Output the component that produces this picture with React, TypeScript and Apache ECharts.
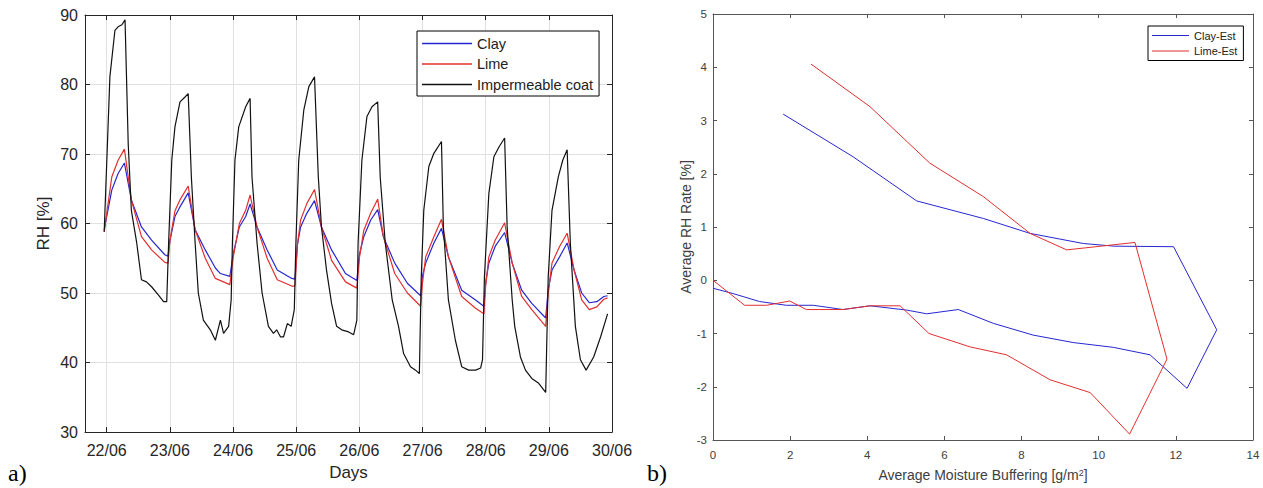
import React, { useEffect, useRef } from 'react';
import * as echarts from 'echarts';

// ---- Panel a) : RH [%] vs days (x = days after 22/06) ----
const dayLabels = ['22/06', '23/06', '24/06', '25/06', '26/06', '27/06', '28/06', '29/06', '30/06'];

const clayRH: [number, number][] = [
  [-0.04, 59.1], [0.08, 64.8], [0.18, 67.2], [0.28, 68.7], [0.39, 63.4], [0.55, 59.5], [0.71, 57.6], [0.92, 55.5], [0.97, 55.3],
  [1.0, 57.5], [1.08, 61.0], [1.16, 62.4], [1.29, 64.4], [1.4, 59.1], [1.56, 56.2], [1.72, 53.6], [1.8, 52.8], [1.95, 52.4],
  [2.0, 55.5], [2.1, 59.5], [2.2, 61.0], [2.27, 62.8], [2.38, 59.5], [2.54, 56.2], [2.7, 53.3], [2.93, 52.1], [2.98, 52.0],
  [3.02, 57.0], [3.07, 59.5], [3.17, 61.5], [3.29, 63.3], [3.4, 59.5], [3.56, 56.2], [3.78, 52.8], [3.96, 51.8],
  [4.0, 55.5], [4.07, 58.1], [4.18, 60.5], [4.29, 62.0], [4.38, 58.1], [4.56, 54.3], [4.76, 51.4], [4.97, 49.6],
  [5.0, 52.5], [5.05, 54.3], [5.18, 57.2], [5.3, 59.3], [5.41, 55.2], [5.62, 50.4], [5.84, 49.0], [5.97, 48.1],
  [6.0, 51.5], [6.05, 54.3], [6.15, 56.7], [6.3, 58.7], [6.42, 54.3], [6.57, 50.4], [6.73, 48.5], [6.95, 46.4],
  [6.99, 50.5], [7.05, 53.3], [7.17, 55.2], [7.29, 57.2], [7.4, 53.3], [7.52, 50.0], [7.64, 48.6], [7.76, 48.75], [7.87, 49.5], [7.93, 49.6],
];

const limeRH: [number, number][] = [
  [-0.04, 58.8], [0.08, 66.7], [0.18, 69.1], [0.28, 70.7], [0.39, 63.4], [0.55, 58.1], [0.71, 56.2], [0.92, 54.4], [0.97, 54.3],
  [1.0, 57.5], [1.08, 61.8], [1.16, 63.4], [1.29, 65.4], [1.4, 59.1], [1.56, 55.0], [1.72, 52.1], [1.95, 51.2],
  [2.0, 55.0], [2.1, 60.0], [2.2, 61.9], [2.27, 64.1], [2.38, 59.5], [2.54, 55.0], [2.7, 51.9], [2.93, 51.0], [2.98, 51.0],
  [3.02, 57.0], [3.07, 60.5], [3.17, 62.9], [3.29, 64.9], [3.4, 59.5], [3.56, 54.7], [3.78, 51.6], [3.96, 50.7],
  [4.0, 55.0], [4.07, 59.0], [4.18, 61.5], [4.29, 63.5], [4.38, 58.1], [4.56, 52.8], [4.76, 50.0], [4.97, 48.1],
  [5.0, 51.5], [5.05, 55.2], [5.18, 58.1], [5.3, 60.6], [5.41, 55.2], [5.62, 49.5], [5.84, 47.8], [5.97, 47.0],
  [6.0, 51.0], [6.05, 55.2], [6.15, 57.6], [6.3, 60.1], [6.42, 54.3], [6.57, 49.5], [6.73, 47.6], [6.95, 45.2],
  [6.99, 50.0], [7.05, 54.3], [7.17, 56.7], [7.29, 58.6], [7.4, 53.3], [7.52, 49.0], [7.64, 47.6], [7.76, 48.0], [7.87, 49.1], [7.93, 49.3],
];

const coatRH: [number, number][] = [
  [-0.04, 58.8], [0.05, 81.1], [0.13, 87.8], [0.18, 88.3], [0.24, 88.6], [0.29, 89.3], [0.34, 71.5], [0.39, 61.9], [0.475, 57.2],
  [0.55, 51.9], [0.63, 51.6], [0.71, 50.9], [0.82, 49.7], [0.9, 48.75], [0.95, 48.75],
  [0.98, 57.2], [1.03, 69.1], [1.08, 73.9], [1.16, 77.5], [1.24, 78.2], [1.29, 78.7], [1.34, 66.7], [1.4, 57.2], [1.45, 50.0],
  [1.53, 46.1], [1.64, 44.7], [1.72, 43.2], [1.8, 46.1], [1.85, 44.2], [1.93, 45.2], [1.97, 49.0],
  [1.99, 57.2], [2.03, 69.1], [2.09, 73.9], [2.2, 76.8], [2.27, 78.0], [2.3, 66.7], [2.38, 57.2], [2.46, 50.0], [2.56, 45.2],
  [2.64, 44.2], [2.69, 44.7], [2.75, 43.7], [2.8, 43.7], [2.86, 45.6], [2.92, 45.2], [2.97, 47.6],
  [2.995, 57.2], [3.04, 69.1], [3.12, 76.3], [3.2, 79.7], [3.29, 81.1], [3.35, 66.7], [3.4, 59.5], [3.48, 53.3], [3.56, 48.5],
  [3.64, 45.2], [3.72, 44.7], [3.83, 44.4], [3.91, 44.0], [3.96, 46.1],
  [3.98, 57.2], [4.04, 69.1], [4.12, 75.4], [4.2, 76.8], [4.29, 77.5], [4.33, 66.7], [4.41, 57.2], [4.52, 49.0], [4.62, 45.2],
  [4.7, 41.3], [4.81, 39.4], [4.89, 38.9], [4.95, 38.4],
  [4.98, 52.3], [5.02, 61.9], [5.1, 68.2], [5.18, 70.1], [5.3, 71.8], [5.33, 59.5], [5.41, 49.0], [5.52, 43.2], [5.62, 39.4],
  [5.73, 38.9], [5.84, 38.9], [5.92, 39.2], [5.95, 40.4],
  [5.98, 52.3], [6.05, 64.3], [6.13, 69.6], [6.21, 71.0], [6.3, 72.3], [6.34, 59.5], [6.42, 49.0], [6.46, 45.2], [6.55, 40.8],
  [6.63, 38.9], [6.73, 37.7], [6.84, 37.0], [6.95, 35.7],
  [6.99, 52.3], [7.05, 61.9], [7.15, 66.7], [7.22, 69.1], [7.29, 70.6], [7.34, 57.2], [7.42, 45.2], [7.5, 40.4], [7.59, 38.9],
  [7.71, 40.8], [7.82, 43.7], [7.93, 47.0],
];

// ---- Panel b) : Average RH rate [%] vs average moisture buffering [g/m2] ----
const clayEst: [number, number][] = [
  [1.82, 3.12], [3.63, 2.32], [5.28, 1.49], [7.01, 1.16], [8.22, 0.88], [9.6, 0.69], [10.4, 0.64], [11.94, 0.63],
  [13.06, -0.93], [12.29, -2.03], [11.33, -1.4], [10.38, -1.26], [9.34, -1.17], [8.3, -1.03], [7.27, -0.81], [6.36, -0.55],
  [5.54, -0.63], [5.02, -0.56], [4.07, -0.48], [3.37, -0.55], [2.6, -0.47], [1.9, -0.47], [1.21, -0.4], [0.52, -0.25], [0.0, -0.15],
];

const limeEst: [number, number][] = [
  [2.54, 4.06], [4.07, 3.26], [5.62, 2.2], [7.01, 1.57], [8.22, 0.88], [9.17, 0.57], [10.94, 0.71], [11.77, -1.48],
  [10.8, -2.89], [9.78, -2.11], [8.74, -1.87], [7.61, -1.4], [6.66, -1.25], [5.6, -1.0], [4.85, -0.48], [4.07, -0.48],
  [3.37, -0.55], [2.42, -0.55], [1.99, -0.39], [1.39, -0.47], [0.82, -0.47], [0.0, 0.0],
];

const BLUE = '#2626d2';
const RED = '#e22f2f';
const BLACK = '#111111';
const FONT = 'Liberation Sans';

export default function App() {
  const ref = useRef<HTMLDivElement>(null);

  useEffect(() => {
    const chart = echarts.init(ref.current!, null, { renderer: 'svg' });

    const axisA = '#262626';
    const axisB = '#555555';

    const option: any = {
      animation: false,
      backgroundColor: '#ffffff',
      textStyle: { fontFamily: FONT },
      grid: [
        { left: 85, top: 15, width: 527, height: 417, containLabel: false },
        { left: 713, top: 14, width: 540, height: 426, containLabel: false },
      ],
      xAxis: [
        {
          type: 'value', gridIndex: 0, position: 'bottom', min: -0.344, max: 8, splitNumber: 8,
          axisLine: { show: true, onZero: false, lineStyle: { color: axisA, width: 1 } },
          axisTick: { show: true, inside: true, length: 5, lineStyle: { color: axisA } },
          axisLabel: {
            show: true, margin: 10, color: axisA, fontSize: 16, fontFamily: FONT,
            formatter: (v: number) => {
              const i = Math.round(v);
              return Math.abs(v - i) < 1e-6 && i >= 0 && i < dayLabels.length ? dayLabels[i] : '';
            },
          },
          splitLine: { show: true, lineStyle: { color: '#e0e0e0', width: 1 } },
          name: 'Days', nameLocation: 'middle', nameGap: 32,
          nameTextStyle: { color: axisA, fontSize: 17, fontFamily: FONT },
        },
        {
          type: 'value', gridIndex: 0, position: 'top', min: -0.344, max: 8, splitNumber: 8,
          axisLine: { show: true, onZero: false, lineStyle: { color: axisA, width: 1 } },
          axisTick: { show: true, inside: true, length: 5, lineStyle: { color: axisA } },
          axisLabel: { show: false },
          splitLine: { show: false },
        },
        {
          type: 'value', gridIndex: 1, position: 'bottom', min: 0, max: 14, interval: 2,
          axisLine: { show: true, onZero: false, lineStyle: { color: axisB, width: 1 } },
          axisTick: { show: true, inside: true, length: 4, lineStyle: { color: axisB } },
          axisLabel: { show: true, margin: 9, color: '#404040', fontSize: 11.5, fontFamily: FONT },
          splitLine: { show: false },
          name: '{a|Average Moisture Buffering [g/m}{s|2}{a|]}', nameLocation: 'middle', nameGap: 28,
          nameTextStyle: {
            color: '#404040', fontFamily: FONT,
            rich: {
              a: { fontSize: 14, color: '#404040', fontFamily: FONT, verticalAlign: 'bottom' },
              s: { fontSize: 9, color: '#404040', fontFamily: FONT, verticalAlign: 'top' },
            },
          },
        },
        {
          type: 'value', gridIndex: 1, position: 'top', min: 0, max: 14, interval: 2,
          axisLine: { show: true, onZero: false, lineStyle: { color: axisB, width: 1 } },
          axisTick: { show: true, inside: true, length: 4, lineStyle: { color: axisB } },
          axisLabel: { show: false },
          splitLine: { show: false },
        },
      ],
      yAxis: [
        {
          type: 'value', gridIndex: 0, position: 'left', min: 30, max: 90, interval: 10,
          axisLine: { show: true, onZero: false, lineStyle: { color: axisA, width: 1 } },
          axisTick: { show: true, inside: true, length: 5, lineStyle: { color: axisA } },
          axisLabel: { show: true, margin: 7, color: axisA, fontSize: 16, fontFamily: FONT },
          splitLine: { show: true, lineStyle: { color: '#e0e0e0', width: 1 } },
          name: 'RH [%]', nameLocation: 'middle', nameGap: 33,
          nameTextStyle: { color: axisA, fontSize: 17, fontFamily: FONT },
        },
        {
          type: 'value', gridIndex: 0, position: 'right', min: 30, max: 90, interval: 10,
          axisLine: { show: true, onZero: false, lineStyle: { color: axisA, width: 1 } },
          axisTick: { show: true, inside: true, length: 5, lineStyle: { color: axisA } },
          axisLabel: { show: false },
          splitLine: { show: false },
        },
        {
          type: 'value', gridIndex: 1, position: 'left', min: -3, max: 5, interval: 1,
          axisLine: { show: true, onZero: false, lineStyle: { color: axisB, width: 1 } },
          axisTick: { show: true, inside: true, length: 4, lineStyle: { color: axisB } },
          axisLabel: { show: true, margin: 6, color: '#404040', fontSize: 11.5, fontFamily: FONT },
          splitLine: { show: false },
          name: 'Average RH Rate [%]', nameLocation: 'middle', nameGap: 20,
          nameTextStyle: { color: '#404040', fontSize: 14, fontFamily: FONT },
        },
        {
          type: 'value', gridIndex: 1, position: 'right', min: -3, max: 5, interval: 1,
          axisLine: { show: true, onZero: false, lineStyle: { color: axisB, width: 1 } },
          axisTick: { show: true, inside: true, length: 4, lineStyle: { color: axisB } },
          axisLabel: { show: false },
          splitLine: { show: false },
        },
      ],
      legend: [
        {
          data: ['Clay', 'Lime', 'Impermeable coat'],
          orient: 'vertical', left: 417, top: 31,
          icon: 'rect', itemWidth: 50, itemHeight: 1.3, itemGap: 5.5, itemTextGap: 3,
          itemStyle: { borderWidth: 0 },
          padding: [5, 6, 4, 5],
          borderColor: '#000', borderWidth: 1, backgroundColor: '#fff', borderRadius: 0,
          textStyle: { color: '#222', fontSize: 14.5, fontFamily: FONT },
          selectedMode: false,
        },
        {
          data: ['Clay-Est', 'Lime-Est'],
          orient: 'vertical', left: 1148, top: 26,
          icon: 'rect', itemWidth: 37, itemHeight: 1.2, itemGap: 4.5, itemTextGap: 3,
          itemStyle: { borderWidth: 0 },
          padding: [4, 6, 4, 4],
          borderColor: '#000', borderWidth: 1, backgroundColor: '#fff', borderRadius: 0,
          textStyle: { color: '#222', fontSize: 11, fontFamily: FONT },
          selectedMode: false,
        },
      ],
      series: [
        { name: 'Clay', type: 'line', xAxisIndex: 0, yAxisIndex: 0, data: clayRH, symbol: 'none', showSymbol: false, lineStyle: { color: BLUE, width: 1.2 }, itemStyle: { color: BLUE } },
        { name: 'Lime', type: 'line', xAxisIndex: 0, yAxisIndex: 0, data: limeRH, symbol: 'none', showSymbol: false, lineStyle: { color: RED, width: 1.2 }, itemStyle: { color: RED } },
        { name: 'Impermeable coat', type: 'line', xAxisIndex: 0, yAxisIndex: 0, data: coatRH, symbol: 'none', showSymbol: false, lineStyle: { color: BLACK, width: 1.2 }, itemStyle: { color: BLACK } },
        { name: 'Clay-Est', type: 'line', xAxisIndex: 2, yAxisIndex: 2, data: clayEst, symbol: 'none', showSymbol: false, lineStyle: { color: BLUE, width: 1 }, itemStyle: { color: BLUE } },
        { name: 'Lime-Est', type: 'line', xAxisIndex: 2, yAxisIndex: 2, data: limeEst, symbol: 'none', showSymbol: false, lineStyle: { color: RED, width: 1 }, itemStyle: { color: RED } },
      ],
      graphic: [
        { type: 'text', left: 8, top: 461, style: { text: 'a)', fontSize: 24, fontFamily: 'Liberation Serif', fill: '#000' } },
        { type: 'text', left: 647, top: 461, style: { text: 'b)', fontSize: 24, fontFamily: 'Liberation Serif', fill: '#000' } },
      ],
    };

    chart.setOption(option);
    return () => chart.dispose();
  }, []);

  return (
    <div
      ref={ref}
      style={{ position: 'fixed', left: 0, top: 0, width: 1263, height: 488, background: '#fff' }}
    />
  );
}
